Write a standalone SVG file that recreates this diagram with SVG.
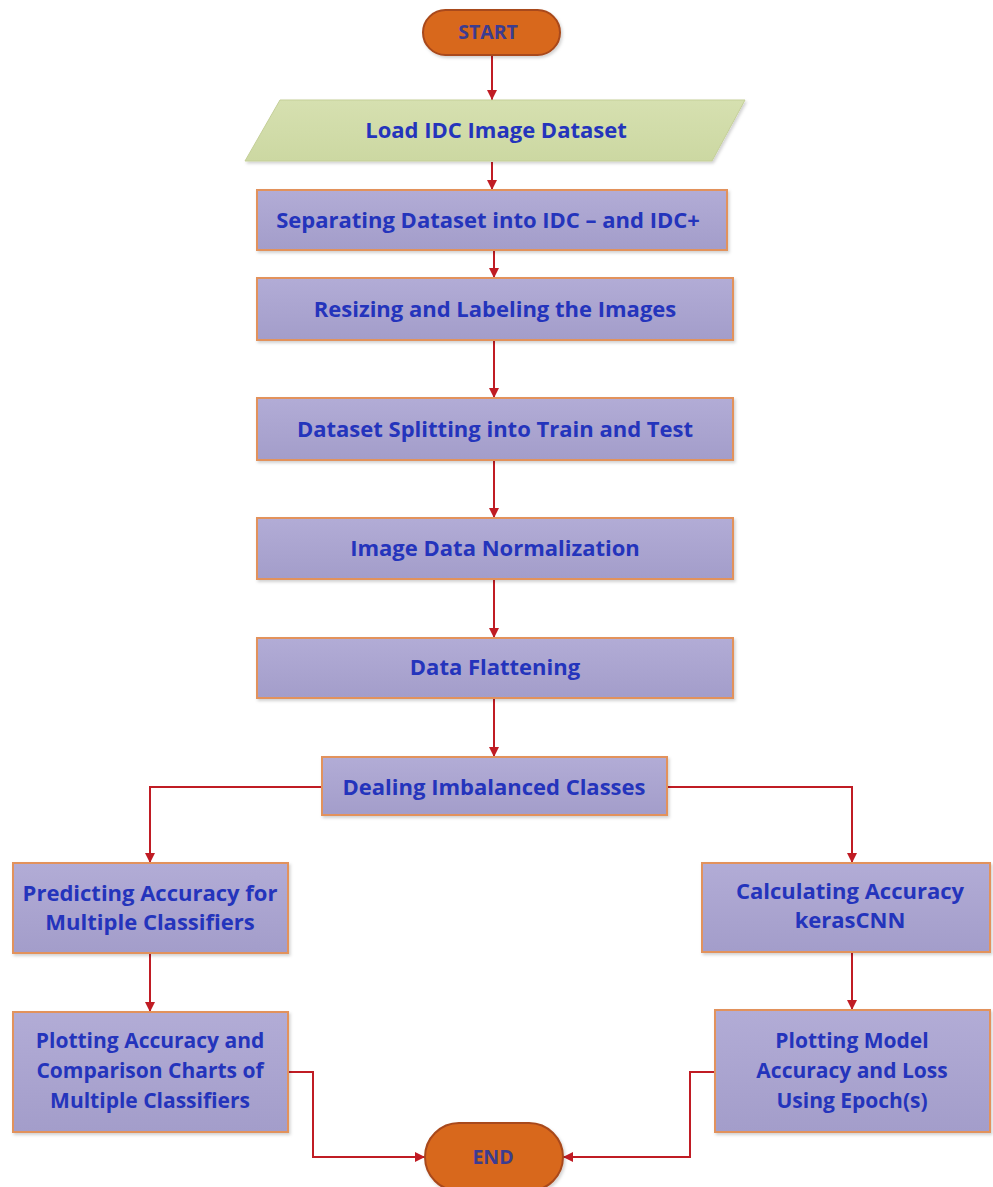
<svg xmlns="http://www.w3.org/2000/svg" width="993" height="1187" viewBox="0 0 993 1187">
<defs>
<linearGradient id="boxg" x1="0" y1="0" x2="0" y2="1">
<stop offset="0" stop-color="#b2acd6"/>
<stop offset="1" stop-color="#a39dca"/>
</linearGradient>
<linearGradient id="pg" x1="0" y1="0" x2="0" y2="1">
<stop offset="0" stop-color="#d6e0b0"/>
<stop offset="1" stop-color="#ccd8a2"/>
</linearGradient>
<marker id="ah" viewBox="0 0 10 10" refX="10" refY="5" markerWidth="10" markerHeight="10" markerUnits="userSpaceOnUse" orient="auto">
<path d="M0,0 L10,5 L0,10 Z" fill="#c01c24"/>
</marker>
<filter id="sh" x="-5%" y="-5%" width="115%" height="125%">
<feDropShadow dx="1.5" dy="2" stdDeviation="1.5" flood-color="#000" flood-opacity="0.18"/>
</filter>
</defs>
<style>
.box{fill:url(#boxg);stroke:#e2925c;stroke-width:2;filter:url(#sh)}
.term{fill:#d8671e;stroke:#a8481a;stroke-width:2;filter:url(#sh)}
.para{fill:url(#pg);stroke:#c4cf98;stroke-width:1;filter:url(#sh)}
.t{font-family:"Open Sans","Liberation Sans",sans-serif;font-weight:bold;font-size:22px;fill:#2434bc;text-anchor:middle}
.m{font-size:21px}
.tt{font-family:"Open Sans","Liberation Sans",sans-serif;font-weight:bold;font-size:19.5px;fill:#3c3c90;text-anchor:middle}
.c{fill:none;stroke:#c01c24;stroke-width:2;marker-end:url(#ah)}
</style>
<g id="connectors">
<path class="c" d="M492,56 V100"/>
<path class="c" d="M492,162 V190"/>
<path class="c" d="M494,251 V278"/>
<path class="c" d="M494,341 V398"/>
<path class="c" d="M494,461 V518"/>
<path class="c" d="M494,580 V638"/>
<path class="c" d="M494,699 V757"/>
<path class="c" d="M322,787 H150 V863"/>
<path class="c" d="M667,787 H852 V863"/>
<path class="c" d="M150,954 V1012"/>
<path class="c" d="M852,953 V1010"/>
<path class="c" d="M289,1072 H313 V1157 H425"/>
<path class="c" d="M715,1072 H690 V1157 H563"/>
</g>
<g id="start">
<rect class="term" x="423" y="10" width="137" height="45" rx="22.5"/>
<text class="tt" x="488" y="39">START</text>
</g>
<g id="load">
<polygon class="para" points="280,100 745,100 712,161 245,161"/>
<text class="t" x="496" y="138">Load IDC Image Dataset</text>
</g>
<g id="separate">
<rect class="box" x="257" y="190" width="470" height="60"/>
<text class="t" x="488" y="228">Separating Dataset into IDC – and IDC+</text>
</g>
<g id="resize">
<rect class="box" x="257" y="278" width="476" height="62"/>
<text class="t" x="495" y="317">Resizing and Labeling the Images</text>
</g>
<g id="split">
<rect class="box" x="257" y="398" width="476" height="62"/>
<text class="t" x="495" y="437">Dataset Splitting into Train and Test</text>
</g>
<g id="normalize">
<rect class="box" x="257" y="518" width="476" height="61"/>
<text class="t" x="495" y="556">Image Data Normalization</text>
</g>
<g id="flatten">
<rect class="box" x="257" y="638" width="476" height="60"/>
<text class="t" x="495" y="675">Data Flattening</text>
</g>
<g id="imbalance">
<rect class="box" x="322" y="757" width="345" height="58"/>
<text class="t" x="494" y="795">Dealing Imbalanced Classes</text>
</g>
<g id="predict">
<rect class="box" x="13" y="863" width="275" height="90"/>
<text class="t" x="150" y="901">Predicting Accuracy for</text>
<text class="t" x="150" y="930">Multiple Classifiers</text>
</g>
<g id="calc">
<rect class="box" x="702" y="863" width="288" height="89"/>
<text class="t" x="850" y="899">Calculating Accuracy</text>
<text class="t" x="850" y="928">kerasCNN</text>
</g>
<g id="plotleft">
<rect class="box" x="13" y="1012" width="275" height="120"/>
<text class="t m" x="150" y="1048">Plotting Accuracy and</text>
<text class="t m" x="150" y="1078">Comparison Charts of</text>
<text class="t m" x="150" y="1108">Multiple Classifiers</text>
</g>
<g id="plotright">
<rect class="box" x="715" y="1010" width="275" height="122"/>
<text class="t m" x="852" y="1048">Plotting Model</text>
<text class="t m" x="852" y="1078">Accuracy and Loss</text>
<text class="t m" x="852" y="1108">Using Epoch(s)</text>
</g>
<g id="end">
<rect class="term" x="425" y="1123" width="138" height="68" rx="34"/>
<text class="tt" x="493" y="1164">END</text>
</g>
</svg>
